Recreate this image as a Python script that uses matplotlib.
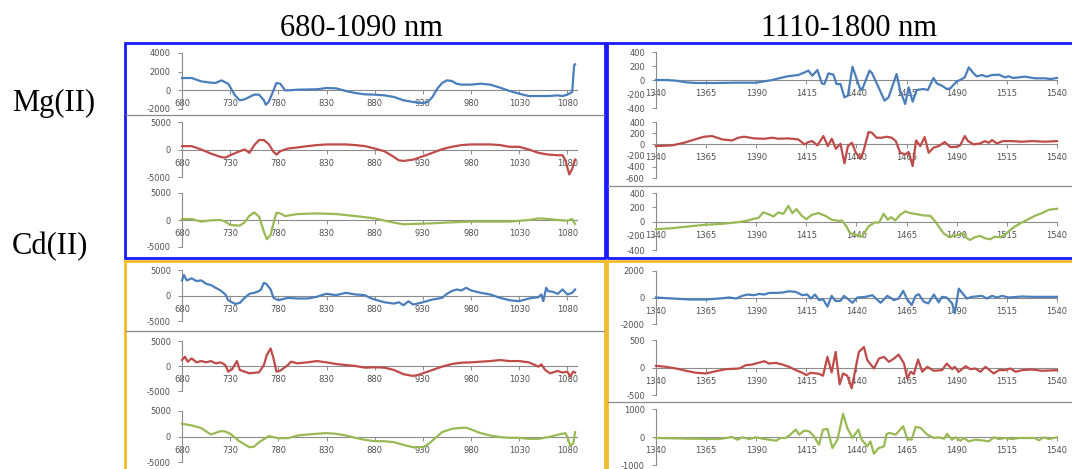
import matplotlib
matplotlib.use("Agg")
import matplotlib.pyplot as plt
from matplotlib.lines import Line2D
from matplotlib.patches import Rectangle

W, H = 1072, 469

# ---- data: 680-1090 nm, Mg(II) ----
mg_vis_1_x = [680, 690, 700, 710, 715, 721, 728, 735, 740, 745, 750, 755, 760, 765, 767, 770, 775, 778,
              782, 787, 790, 800, 820, 830, 840, 850, 860, 870, 880, 890, 900, 910, 920, 930, 935, 940,
              945, 950, 955, 960, 965, 970, 980, 990, 1000, 1010, 1020, 1030, 1040, 1050, 1060, 1070,
              1075, 1080, 1085, 1087, 1088]
mg_vis_1_y = [1320, 1320, 960, 820, 790, 1070, 700, -540, -1070, -960, -710, -460, -460, -1070, -1540,
              -1250, 0, 790, 710, 0, 0, 70, 110, 250, 210, -70, -290, -430, -460, -540, -710, -1070,
              -1250, -1360, -1250, -710, 180, 790, 1070, 1000, 710, 610, 610, 710, 610, 290, -70, -360,
              -610, -610, -610, -540, -610, -460, -180, 2680, 2790]

mg_vis_2_x = [680, 690, 700, 710, 720, 725, 730, 740, 745, 750, 755, 760, 765, 770, 775, 778, 782, 790,
              800, 810, 820, 830, 840, 850, 860, 870, 880, 890, 900, 905, 910, 920, 930, 940, 950, 960,
              970, 980, 990, 1000, 1010, 1020, 1030, 1040, 1050, 1060, 1070, 1075, 1078, 1082, 1085, 1088]
mg_vis_2_y = [610, 610, 0, -740, -1350, -1470, -1040, -310, 0, -610, 800, 1720, 1720, 980, -430, -920,
              -310, 180, 370, 610, 800, 920, 920, 920, 800, 610, 180, -310, -1350, -1960, -2080, -1840,
              -1230, -610, 60, 490, 800, 920, 920, 920, 800, 490, 490, 0, -610, -920, -1040, -1040,
              -1960, -4540, -3490, -1840]

mg_vis_3_x = [680, 690, 700, 710, 720, 725, 730, 740, 745, 750, 755, 760, 765, 768, 772, 775, 778, 782,
              787, 800, 820, 840, 860, 880, 900, 910, 920, 940, 960, 980, 1000, 1020, 1040, 1050, 1060,
              1070, 1080, 1085, 1088]
mg_vis_3_y = [180, 180, -300, -60, 0, -300, -920, -1040, -430, 790, 1400, 610, -2140, -3540, -2750, -610,
              1340, 1220, 730, 1100, 1220, 1100, 730, 300, -490, -790, -730, -610, -430, -300, -300, -300,
              0, 300, 180, 0, -120, 180, -730]

# ---- data: 680-1090 nm, Cd(II) ----
cd_vis_1_x = [680, 682, 685, 690, 695, 700, 705, 710, 715, 720, 725, 728, 735, 740, 745, 750, 755, 760,
              762, 765, 768, 772, 775, 780, 790, 800, 810, 820, 825, 830, 840, 850, 860, 870, 875, 880,
              890, 900, 905, 910, 915, 920, 930, 940, 950, 955, 960, 965, 970, 975, 980, 990, 1000, 1010,
              1020, 1030, 1040, 1045, 1050, 1053, 1055, 1058, 1060, 1065, 1070, 1075, 1080, 1085, 1088]
cd_vis_1_y = [2960, 4000, 2960, 3360, 2830, 2960, 2300, 2040, 1510, 990, 200, -920, -1650, -1450, -460,
              330, 530, 860, 1180, 2500, 2170, 1180, -460, -920, -460, -590, -590, -260, 70, 330, 70, 530,
              200, 70, -460, -790, -1320, -1580, -1320, -1910, -1120, -1780, -1320, -790, -460, 330, 860,
              1180, 990, 1510, 990, 530, 200, -460, -920, -1120, -590, -460, -330, 200, -1120, 1510, 860,
              720, 330, 1180, 200, 530, 1180]

cd_vis_2_x = [680, 683, 686, 690, 695, 700, 705, 710, 715, 720, 725, 728, 732, 737, 740, 745, 750, 760,
              765, 768, 772, 775, 778, 782, 790, 793, 800, 810, 820, 830, 840, 850, 860, 870, 880, 890,
              900, 910, 920, 925, 930, 940, 950, 960, 970, 980, 990, 1000, 1010, 1020, 1030, 1040, 1050,
              1053, 1057, 1062, 1070, 1075, 1080, 1083, 1086, 1088]
cd_vis_2_y = [1190, 1850, 860, 1520, 730, 990, 730, 990, 530, 730, 200, -1130, -660, 990, -790, -1130,
              -1460, -1260, 200, 2180, 3510, 1520, -1130, -930, 200, 860, 530, 730, 990, 730, 400, 200, 0,
              -330, -260, -330, -790, -1650, -1990, -1790, -1460, -790, -130, 400, 660, 730, 860, 990,
              1190, 990, 990, 730, -130, 330, -790, -1460, -990, -1320, -1130, -2120, -1130, -1320]

cd_vis_3_x = [680, 690, 700, 710, 720, 725, 730, 740, 750, 755, 760, 770, 780, 790, 800, 810, 820, 830,
              840, 850, 860, 870, 880, 890, 900, 910, 920, 930, 935, 940, 950, 960, 970, 975, 980, 990,
              1000, 1010, 1020, 1030, 1040, 1050, 1060, 1070, 1078, 1080, 1083, 1086, 1088]
cd_vis_3_y = [2500, 2170, 1650, 390, 1050, 990, 530, -990, -2110, -1970, -1120, 70, -330, -330, 200, 390,
              530, 660, 530, 200, -260, -660, -920, -920, -1120, -1650, -2110, -2110, -1580, -790, 860,
              1510, 1710, 1710, 1380, 660, 200, -130, -260, -260, -460, -460, -130, 330, 660, -130,
              -1780, -1450, 860]

# ---- data: 1110-1800 nm, Mg(II) ----
mg_nir_1_x = [1340, 1345, 1350, 1355, 1360, 1370, 1380, 1390, 1398, 1402, 1406, 1411, 1416, 1418, 1420.5,
              1422.7, 1424, 1426, 1428.5, 1430, 1432, 1434, 1435.7, 1438, 1441.5, 1442.7, 1446.5, 1447.7,
              1451, 1454, 1456, 1460, 1461.8, 1464.3, 1466, 1468, 1470, 1473.4, 1475.6, 1478.4, 1480,
              1482.6, 1485, 1486.8, 1490, 1491.7, 1494, 1496, 1498.4, 1500, 1502.6, 1504.7, 1507.6, 1511,
              1514, 1516, 1518, 1521, 1524, 1529, 1534, 1536.7, 1540]
mg_nir_1_y = [0, 0, -10, -33, -43, -43, -38, -38, 0, 29, 55, 71, 133, 62, 143, -48, -57, 95, 76, -57,
              -57, -248, -224, 190, -105, -143, 133, 100, -105, -295, -248, 86, -152, -343, -105, -310,
              -143, -129, -143, 29, -48, -81, -129, -119, -19, 0, 38, 181, 95, 52, 71, 48, 71, 76, 38, 52,
              29, 38, 48, 24, 24, 14, 29]

mg_nir_2_x = [1340, 1348, 1354, 1361, 1364, 1368, 1373, 1378, 1381, 1384, 1389, 1394, 1398, 1401, 1406,
              1411, 1414, 1416, 1418, 1420.5, 1423.5, 1425.7, 1427.7, 1429.7, 1432, 1434, 1435.7, 1437.7,
              1439.7, 1442, 1443.5, 1446, 1447.7, 1450, 1452.6, 1455, 1457.6, 1459.6, 1461.8, 1464.3,
              1466, 1468, 1469.7, 1471.8, 1474, 1476, 1478.4, 1481, 1484, 1486.8, 1490, 1491.7, 1494,
              1495.6, 1498.4, 1501.7, 1504, 1506, 1507.6, 1510, 1513, 1517.5, 1522.5, 1527.5, 1534, 1540]
mg_nir_2_y = [-30, -18, 30, 107, 137, 149, 89, 71, 119, 137, 107, 101, 119, 101, 107, 89, 0, 42, 59, -18,
              149, -30, 101, -77, 12, -339, -30, 30, -149, -256, -119, 220, 208, 119, 119, 137, 119, 59,
              -149, -178, -137, -387, 71, -30, 131, -149, -59, -30, 42, -48, -42, -18, 149, 59, 0, 18, 59,
              30, 77, 18, 59, 59, 48, 59, 48, 59]

mg_nir_3_x = [1340, 1348, 1356, 1364, 1373, 1381, 1386, 1388.6, 1391, 1393.6, 1396, 1398.6, 1401, 1403.6,
              1406, 1408, 1410, 1412.7, 1415, 1417.7, 1421, 1424.4, 1427.7, 1431, 1432.7, 1435, 1436.8,
              1440, 1442.7, 1446, 1449, 1451.3, 1453.5, 1455.6, 1457.3, 1459.3, 1461.8, 1464.3, 1466.8,
              1470, 1473.4, 1476.8, 1479.3, 1481, 1483.4, 1486, 1489, 1491.7, 1493.4, 1495, 1496.7, 1499,
              1501.7, 1504, 1506.7, 1509, 1511.7, 1514, 1516.7, 1519, 1522.5, 1525.8, 1529, 1532.5, 1536,
              1540]
mg_nir_3_y = [-108, -94, -70, -47, -33, -9, 14, 38, 47, 130, 103, 70, 127, 108, 221, 118, 174, 80, 33, 94,
              118, 80, 24, 9, 14, -70, -165, -188, -212, -70, -14, -14, 108, 24, 61, 14, 94, 141, 118, 103,
              85, 80, 0, -70, -165, -212, -202, -179, -165, -235, -259, -221, -202, -235, -249, -212,
              -221, -188, -118, -70, -14, 33, 80, 118, 165, 179]

# ---- data: 1110-1800 nm, Cd(II) ----
cd_nir_1_x = [1340, 1348, 1357, 1365, 1371.5, 1376.5, 1380, 1383, 1385.6, 1389, 1391.5, 1394, 1396.4,
              1399.8, 1403, 1406.4, 1409.7, 1413, 1415.5, 1417.2, 1419.3, 1421.3, 1423.3, 1425.5, 1427.6,
              1429.6, 1432, 1433.8, 1435.4, 1438, 1440.4, 1444.6, 1447.9, 1452, 1455.4, 1458.7, 1461,
              1463.3, 1465.3, 1467.5, 1469.5, 1471, 1473.6, 1475.8, 1478.6, 1481, 1482.6, 1485, 1487.7,
              1489, 1491, 1492.7, 1495, 1497.7, 1502.6, 1505, 1507.6, 1510, 1512.6, 1516, 1522.6, 1527.5,
              1534, 1540]
cd_nir_1_y = [0, -75, -150, -150, -75, 0, -75, 124, 223, 174, 273, 223, 347, 347, 372, 471, 422, 174, 223,
              -75, 223, -198, -120, -694, 124, -273, -248, 124, -75, -397, 0, 50, 174, -397, 124, -198,
              -75, 496, -150, -570, 124, 248, -322, -446, 223, -372, 50, 0, -446, -1190, 670, 347, -75, 50,
              124, -75, 124, 0, 124, 0, 75, 50, 50, 50]

cd_nir_2_x = [1340, 1345, 1350, 1355, 1360, 1365, 1370, 1375, 1381.5, 1384.8, 1388, 1391.5, 1394, 1396.4,
              1399.8, 1403, 1406.4, 1409.7, 1413, 1415, 1417.2, 1421.3, 1423.3, 1425.5, 1427.6, 1429.6,
              1431.6, 1433.3, 1435.4, 1437.6, 1439.6, 1441.2, 1443.7, 1445.4, 1448.7, 1451.2, 1453.7,
              1456.2, 1458.7, 1461, 1463.7, 1465.3, 1467, 1468.6, 1470.7, 1472.8, 1475.3, 1478.6, 1482.7,
              1485, 1487.7, 1489, 1491, 1494.4, 1496.8, 1499.3, 1501.8, 1504.3, 1508.5, 1511, 1514,
              1516.8, 1519.3, 1522.6, 1527.5, 1532.5, 1540]
cd_nir_2_y = [30, 12, -18, -60, -96, -108, -66, -30, -18, 42, 54, 90, 114, 72, 84, 54, 12, -48, -96, -138,
              -96, -114, -150, 193, -90, 283, -307, -108, -150, -379, -6, 283, 373, 132, -18, 163, 193,
              102, 163, 235, 72, -199, -78, -120, 145, -78, 12, -60, -48, 72, -30, 12, -78, 24, -30, -18,
              -78, 12, -108, -48, -48, -18, -78, -48, -36, -60, -48]

cd_nir_3_x = [1340, 1357, 1371.5, 1375, 1378, 1380.6, 1383, 1386.5, 1390, 1393, 1396.4, 1400, 1402,
              1404.7, 1407, 1409.7, 1411.4, 1413.9, 1416.4, 1418.8, 1421.3, 1423.3, 1425.5, 1428, 1430.5,
              1433.3, 1435.4, 1438, 1440.9, 1442.6, 1445.4, 1446.9, 1448.7, 1451, 1453.7, 1455, 1456.5,
              1459.5, 1463.3, 1465.3, 1467.5, 1469.5, 1472, 1475.3, 1478.6, 1481, 1483.7, 1485.2, 1487.7,
              1489.4, 1491.8, 1493.5, 1496, 1499.3, 1502.6, 1506, 1508.5, 1511, 1514, 1517.6, 1521, 1524,
              1529, 1530.9, 1533.4, 1536, 1540]
cd_nir_3_y = [-36, -60, -72, -36, 0, -96, -12, -72, -12, -60, -96, -132, -36, -36, 84, 264, 84, 228, 204,
              24, -276, 264, 288, -396, -96, 828, 324, -36, 264, -96, -336, -156, -600, -396, -336, 108,
              144, 84, 384, -72, -96, 360, 324, 84, -36, -12, -60, 108, -96, -12, -132, -36, -156, -96,
              -120, -156, -12, -72, -36, -72, -36, -36, -36, -120, -12, -72, -12]

vis_ticks = [680, 730, 780, 830, 880, 930, 980, 1030, 1080]
nir_ticks = [1340, 1365, 1390, 1415, 1440, 1465, 1490, 1515, 1540]

BLUE, RED, GREEN = '#4a7ebb', '#be4b48', '#98b954'
AXIS = '#8c8c8c'
TXT = '#505050'

fig = plt.figure(figsize=(W / 100, H / 100), dpi=100)
fig.patch.set_facecolor('white')


def px_axes(x0, x1, ytop, ybot):
    return fig.add_axes([x0 / W, 1 - ybot / H, (x1 - x0) / W, (ybot - ytop) / H])


def panel(x0, x1, ytop, ybot, xs, ys, color, xlim, xticks, yticks):
    ax = px_axes(x0, x1, ytop, ybot)
    ax.set_facecolor('none')
    ax.plot(xs, ys, color=color, lw=1.6, zorder=3, clip_on=False, solid_joinstyle='round')
    ax.set_xlim(*xlim)
    ax.set_ylim(yticks[0], yticks[-1])
    for s in ['top', 'right']:
        ax.spines[s].set_visible(False)
    ax.spines['left'].set_color(AXIS)
    ax.spines['left'].set_linewidth(0.8)
    ax.spines['bottom'].set_position(('data', 0))
    ax.spines['bottom'].set_color(AXIS)
    ax.spines['bottom'].set_linewidth(0.8)
    ax.set_xticks(xticks)
    ax.set_xticklabels([str(t) for t in xticks])
    ax.set_yticks(yticks)
    ax.set_yticklabels([str(t) for t in yticks])
    ax.tick_params(axis='both', colors=AXIS, labelcolor=TXT, labelsize=6, length=3, width=0.7,
                   direction='out')
    ax.tick_params(axis='x', pad=3.5)
    ax.tick_params(axis='y', pad=5)
    return ax


# frames
fig.add_artist(Rectangle((125 / W, 1 - 258 / H), 480 / W, 215 / H, transform=fig.transFigure,
                         fill=False, ec='#1a1aff', lw=2))
fig.add_artist(Rectangle((607 / W, 1 - 258 / H), 470 / W, 215 / H, transform=fig.transFigure,
                         fill=False, ec='#1a1aff', lw=2))
fig.add_artist(Rectangle((125 / W, 1 - 475 / H), 480 / W, 214 / H, transform=fig.transFigure,
                         fill=False, ec='#f2bb2a', lw=2))
fig.add_artist(Rectangle((607 / W, 1 - 475 / H), 470 / W, 214 / H, transform=fig.transFigure,
                         fill=False, ec='#f2bb2a', lw=2))

# gray separators between chart objects
for (xa, xb, yy) in [(126, 604, 115), (608, 1072, 186), (126, 604, 331), (608, 1072, 402)]:
    fig.add_artist(Line2D([xa / W, xb / W], [1 - yy / H, 1 - yy / H], transform=fig.transFigure,
                          color='#8a8a8a', lw=0.9))

VIS = (680, 1090)
NIR = (1340, 1540)
LX0, LX1 = 182, 577
RX0, RX1 = 656, 1057

panel(LX0, LX1, 53, 109, mg_vis_1_x, mg_vis_1_y, BLUE, VIS, vis_ticks, [-2000, 0, 2000, 4000])
panel(LX0, LX1, 122, 177, mg_vis_2_x, mg_vis_2_y, RED, VIS, vis_ticks, [-5000, 0, 5000])
panel(LX0, LX1, 193, 247, mg_vis_3_x, mg_vis_3_y, GREEN, VIS, vis_ticks, [-5000, 0, 5000])

panel(LX0, LX1, 270, 321, cd_vis_1_x, cd_vis_1_y, BLUE, VIS, vis_ticks, [-5000, 0, 5000])
panel(LX0, LX1, 341, 391, cd_vis_2_x, cd_vis_2_y, RED, VIS, vis_ticks, [-5000, 0, 5000])
panel(LX0, LX1, 411, 462, cd_vis_3_x, cd_vis_3_y, GREEN, VIS, vis_ticks, [-5000, 0, 5000])

panel(RX0, RX1, 52, 108, mg_nir_1_x, mg_nir_1_y, BLUE, NIR, nir_ticks, [-400, -200, 0, 200, 400])
panel(RX0, RX1, 122, 178, mg_nir_2_x, mg_nir_2_y, RED, NIR, nir_ticks,
      [-600, -400, -200, 0, 200, 400])
panel(RX0, RX1, 193, 250, mg_nir_3_x, mg_nir_3_y, GREEN, NIR, nir_ticks, [-400, -200, 0, 200, 400])

panel(RX0, RX1, 271, 324, cd_nir_1_x, cd_nir_1_y, BLUE, NIR, nir_ticks, [-2000, 0, 2000])
panel(RX0, RX1, 340, 395, cd_nir_2_x, cd_nir_2_y, RED, NIR, nir_ticks, [-500, 0, 500])
panel(RX0, RX1, 409, 465, cd_nir_3_x, cd_nir_3_y, GREEN, NIR, nir_ticks, [-1000, 0, 1000])

# titles and row labels
serif = ['Liberation Serif', 'DejaVu Serif']
fig.text(361 / W, 1 - 28 / H, '680-1090 nm', ha='center', va='center', fontsize=22, family=serif)
fig.text(849 / W, 1 - 28 / H, '1110-1800 nm', ha='center', va='center', fontsize=22, family=serif)
fig.text(12 / W, 1 - 103 / H, 'Mg(II)', ha='left', va='center', fontsize=22, family=serif)
fig.text(12 / W, 1 - 247 / H, 'Cd(II)', ha='left', va='center', fontsize=22, family=serif)

fig.savefig('out.png', dpi=100, facecolor='white')
